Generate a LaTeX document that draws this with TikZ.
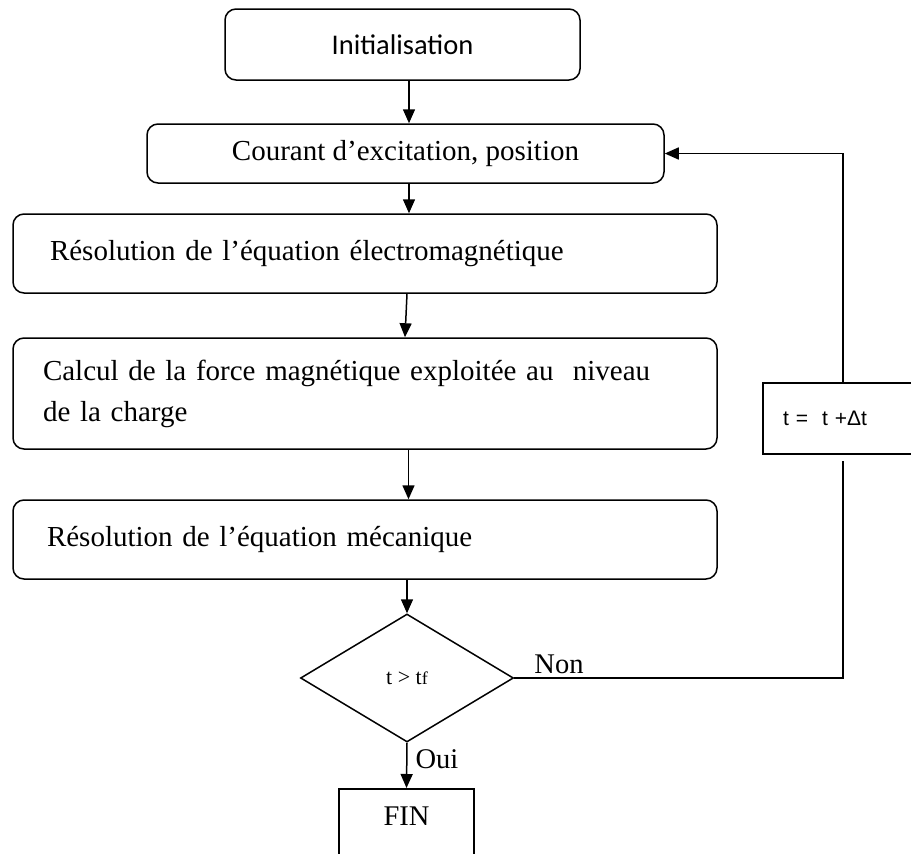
\documentclass[tikz,border=0pt]{standalone}
\usepackage{fontspec}
\setmainfont{Liberation Serif}
\newfontfamily\calibrifont{Carlito}
\newfontfamily\arialfont{Liberation Sans}
\usetikzlibrary{arrows.meta,shapes.geometric}
\tikzset{
  lw/.style={line width=1.5pt},
  rbox/.style={draw, lw, rounded corners=11pt, inner sep=0pt, font=\fontsize{29}{35}\selectfont},
  wbox/.style={rbox, minimum width=704pt, align=left},
  sqbox/.style={draw, lw, inner sep=0pt},
  arr/.style={lw, -{Triangle[width=12pt,length=14pt]}},
  line/.style={lw},
  lbl/.style={font=\fontsize{28.5}{34}\selectfont, inner sep=3pt}
}
\begin{document}
\begin{tikzpicture}[x=1pt,y=-1pt]
\useasboundingbox (0,0) rectangle (911,854);
\clip (0,0) rectangle (911,854);

\node[rbox, minimum width=355pt, minimum height=71pt, font=\calibrifont\fontsize{28.5}{34}\selectfont] (init) at (402.5,44.5) {Initialisation};
\node[rbox, minimum width=517pt, minimum height=59pt] (box2) at (405.5,153.5) {Courant d’excitation, position};
\node[wbox, minimum height=79pt, text width=630pt] (box3) at (365,253.5) {Résolution de l’équation électromagnétique};
\node[wbox, minimum height=111pt, text width=644pt, font=\fontsize{29}{41}\selectfont] (box4) at (365,393.5) {Calcul de la force magnétique exploitée au \ niveau\\de la charge};
\node[wbox, minimum height=79pt, text width=636pt] (box5) at (365,539.5) {Résolution de l’équation mécanique};
\node[draw, lw, diamond, minimum width=213pt, minimum height=128pt, inner sep=0pt, font=\fontsize{22}{26}\selectfont] (dec) at (407,678) {t > t{\fontsize{18}{20}\selectfont f}};
\node[sqbox, anchor=north, minimum width=135pt, text height=37pt, text depth=60pt, font=\fontsize{28.5}{34}\selectfont] (fin) at (406.5,788) {FIN};
\node[sqbox, minimum width=160pt, minimum height=71pt, text width=120pt, align=left, font=\arialfont\fontsize{21}{25}\selectfont] (tbox) at (843,418.5) {t =\ \ t +Δt};

\coordinate (xa) at (409,0);
\coordinate (xb) at (407,0);
\coordinate (xc) at (405,0);
\coordinate (xd) at (408.5,0);

\draw[arr] (init.south -| xa) -- (box2.north -| xa);
\draw[arr] (box2.south -| xa) -- (box3.north -| xa);
\draw[arr] (box3.south -| xb) -- (box4.north -| xc);
\draw[arr] (box4.south -| xd) -- (box5.north -| xd);
\draw[arr] (box5.south -| dec) -- (dec.north);
\draw[arr] (dec.south) -- node[lbl, anchor=west, pos=0.36, xshift=5pt] {Oui} (fin.north);
\draw[line] (dec.east) -- node[lbl, anchor=south, pos=0.136] {Non} (dec.east -| tbox) -- ([yshift=-6pt]tbox.south);
\draw[arr] (tbox.north) |- (box2.east);
\end{tikzpicture}
\end{document}
